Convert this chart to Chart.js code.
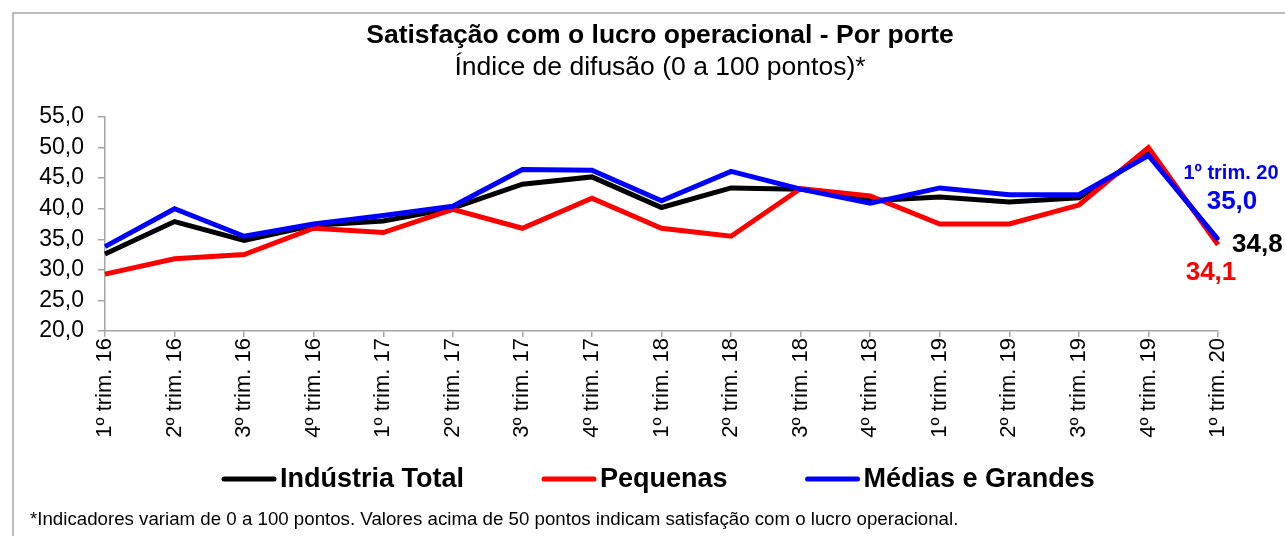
<!DOCTYPE html>
<html>
<head>
<meta charset="utf-8">
<script src="https://cdn.jsdelivr.net/npm/chart.js@4.4.1/dist/chart.umd.min.js"></script>
<style>
  html, body { margin: 0; padding: 0; background: #fff; }
  #wrap { width: 1285px; height: 536px; position: relative; }
</style>
</head>
<body>
<div id="wrap"><canvas id="lucroChart"></canvas></div>
<script>
// categorias (trimestres)
const categories = [
    '1º trim. 16', '2º trim. 16', '3º trim. 16', '4º trim. 16',
    '1º trim. 17', '2º trim. 17', '3º trim. 17', '4º trim. 17',
    '1º trim. 18', '2º trim. 18', '3º trim. 18', '4º trim. 18',
    '1º trim. 19', '2º trim. 19', '3º trim. 19', '4º trim. 19',
    '1º trim. 20'
];
const industriaTotal = [32.6, 37.9, 34.8, 37.3, 38.0, 40.1, 44.0, 45.2, 40.2, 43.4, 43.2, 41.3, 41.9, 41.1, 41.8, 49.0, 34.8];
const pequenas       = [29.3, 31.8, 32.5, 36.8, 36.1, 39.9, 36.8, 41.7, 36.8, 35.5, 43.3, 42.1, 37.5, 37.5, 40.6, 50.0, 34.1];
const mediasGrandes  = [33.8, 40.0, 35.5, 37.5, 38.9, 40.4, 46.4, 46.3, 41.3, 46.1, 43.2, 40.9, 43.4, 42.3, 42.3, 48.7, 35.0];
const yMin = 20, yMax = 55, yStep = 5;

const title = 'Satisfação com o lucro operacional - Por porte';
const subtitle = 'Índice de difusão (0 a 100 pontos)*';
const footnote = '*Indicadores variam de 0 a 100 pontos. Valores acima de 50 pontos indicam satisfação com o lucro operacional.';

const FONT = 'Arial, "Liberation Sans", sans-serif';
const AXIS_GRAY = '#a6a6a6';

const fmt = v => v.toFixed(1).replace('.', ',');

// textos, moldura, legenda e rótulos do último trimestre
const decorations = {
    id: 'decorations',
    beforeDraw(chart) {
        const ctx = chart.ctx;
        ctx.save();
        ctx.fillStyle = '#fff';
        ctx.fillRect(0, 0, chart.width, chart.height);
        ctx.strokeStyle = AXIS_GRAY;
        ctx.lineWidth = 1.5;
        ctx.beginPath();
        ctx.moveTo(13, chart.height);
        ctx.lineTo(13, 13);
        ctx.lineTo(chart.width, 13);
        ctx.stroke();
        ctx.restore();
    },
    afterDraw(chart) {
        const ctx = chart.ctx;
        ctx.save();
        ctx.fillStyle = '#000';
        ctx.textAlign = 'center';
        ctx.textBaseline = 'alphabetic';
        ctx.font = 'bold 26.5px ' + FONT;
        ctx.fillText(title, 660, 43);
        ctx.font = '26.5px ' + FONT;
        ctx.fillText(subtitle, 660, 75);

        ctx.textAlign = 'left';
        ctx.font = '18.7px ' + FONT;
        ctx.fillText(footnote, 30, 525);

        // legenda
        ctx.font = 'bold 27px ' + FONT;
        ctx.textBaseline = 'middle';
        ctx.lineCap = 'round';
        ctx.lineWidth = 5;
        let x = 224;
        const ly = 479;
        chart.data.datasets.forEach(ds => {
            ctx.strokeStyle = ds.borderColor;
            ctx.beginPath();
            ctx.moveTo(x, ly);
            ctx.lineTo(x + 50, ly);
            ctx.stroke();
            x += 56;
            ctx.fillStyle = '#000';
            ctx.fillText(ds.label, x, ly + 1);
            x += ctx.measureText(ds.label).width + 80;
        });

        const last = categories.length - 1;
        const pt = i => chart.getDatasetMeta(i).data[last];

        const blue = pt(2);
        ctx.fillStyle = '#0000ff';
        ctx.textAlign = 'center';
        ctx.font = 'bold 20px ' + FONT;
        ctx.fillText(categories[last], blue.x + 13, blue.y - 66);
        ctx.font = 'bold 26px ' + FONT;
        ctx.fillText(fmt(mediasGrandes[last]), blue.x + 14, blue.y - 37);

        const black = pt(0);
        ctx.fillStyle = '#000';
        ctx.textAlign = 'left';
        ctx.fillText(fmt(industriaTotal[last]), black.x + 14, black.y + 4);

        const red = pt(1);
        ctx.fillStyle = '#ff0000';
        ctx.textAlign = 'center';
        ctx.fillText(fmt(pequenas[last]), red.x - 7, red.y + 28);
        ctx.restore();
    }
};

const ctx = document.getElementById('lucroChart');
new Chart(ctx, {
    type: 'line',
    data: {
        labels: categories,
        datasets: [{
            label: 'Indústria Total',
            data: industriaTotal,
            borderColor: '#000000',
            backgroundColor: '#000000',
            order: 2
        }, {
            label: 'Pequenas',
            data: pequenas,
            borderColor: '#ff0000',
            backgroundColor: '#ff0000',
            order: 1
        }, {
            label: 'Médias e Grandes',
            data: mediasGrandes,
            borderColor: '#0000ff',
            backgroundColor: '#0000ff',
            order: 0
        }]
    },
    options: {
        responsive: true,
        maintainAspectRatio: false,
        animation: false,
        devicePixelRatio: 1,
        elements: {
            line: { borderWidth: 5, tension: 0, borderJoinStyle: 'miter', borderCapStyle: 'butt' },
            point: { radius: 0, hoverRadius: 0 }
        },
        layout: { padding: { top: 117, right: 67, bottom: 90, left: 0 } },
        plugins: {
            title: { display: false },
            tooltip: { enabled: false },
            legend: { display: false }
        },
        scales: {
            x: {
                grid: { display: true, drawOnChartArea: false, drawTicks: true, tickLength: 6, color: AXIS_GRAY, lineWidth: 1.5 },
                border: { display: true, color: AXIS_GRAY, width: 1.5 },
                ticks: {
                    color: '#000',
                    font: { family: FONT, size: 22 },
                    minRotation: 90,
                    maxRotation: 90,
                    autoSkip: false,
                    padding: 1
                },
                afterFit(scale) { scale.height = 115; }
            },
            y: {
                min: yMin,
                max: yMax,
                grid: { display: true, drawOnChartArea: false, drawTicks: true, tickLength: 7, color: AXIS_GRAY, lineWidth: 1.5 },
                border: { display: true, color: AXIS_GRAY, width: 1.5 },
                ticks: {
                    stepSize: yStep,
                    autoSkip: false,
                    color: '#000',
                    font: { family: FONT, size: 23 },
                    padding: 14,
                    callback: v => fmt(v)
                },
                afterFit(scale) { scale.width = 105; }
            }
        }
    },
    plugins: [decorations]
});
</script>
</body>
</html>
